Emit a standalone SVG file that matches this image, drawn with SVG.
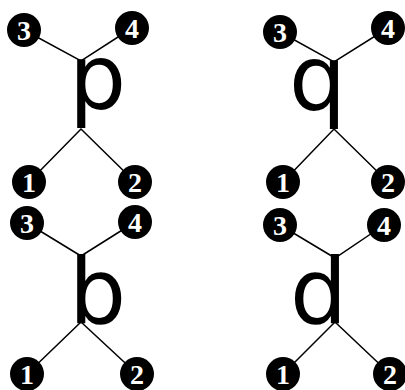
<svg xmlns="http://www.w3.org/2000/svg" width="405" height="390" viewBox="0 0 405 390">
<style>
.bg{fill:#fff}
.ln{stroke:#000;stroke-width:1.5;fill:none}
.c{fill:#000}
.n{fill:#fff;font-family:"Liberation Serif",serif;font-weight:bold;font-size:28px;text-anchor:middle}
.L{fill:#000;font-family:"DejaVu Sans",sans-serif;font-size:90px}
</style>
<rect class="bg" width="405" height="390"/>
<g id="connectors">
<path class="ln" d="M24,30L81,61L132,28M29,182L81,129L135,182"/>
<path class="ln" d="M280,32L334,62L388,28M283,182L334,129L388,182"/>
<path class="ln" d="M27,223L81,256L135,222M27,374L81,322L137,374"/>
<path class="ln" d="M280,225L335,258L384,225M283,374L335,322L390,374"/>
</g>
<g id="letter-p"><text class="L" x="69" y="109">p</text></g>
<g id="letter-q"><text class="L" x="289" y="110">q</text></g>
<g id="letter-b"><text class="L" x="69" y="323">b</text></g>
<g id="letter-d"><text class="L" x="290" y="323">d</text></g>
<g id="p3"><circle class="c" cx="24" cy="30" r="17"/><text class="n" x="24" y="39.5">3</text></g>
<g id="p4"><circle class="c" cx="132" cy="28" r="17"/><text class="n" x="132" y="37.5">4</text></g>
<g id="p1"><circle class="c" cx="29" cy="182" r="17"/><text class="n" x="29" y="191.5">1</text></g>
<g id="p2"><circle class="c" cx="135" cy="182" r="17"/><text class="n" x="135" y="191.5">2</text></g>
<g id="q3"><circle class="c" cx="280" cy="32" r="17"/><text class="n" x="280" y="41.5">3</text></g>
<g id="q4"><circle class="c" cx="388" cy="28" r="17"/><text class="n" x="388" y="37.5">4</text></g>
<g id="q1"><circle class="c" cx="283" cy="182" r="17"/><text class="n" x="283" y="191.5">1</text></g>
<g id="q2"><circle class="c" cx="388" cy="182" r="17"/><text class="n" x="388" y="191.5">2</text></g>
<g id="b3"><circle class="c" cx="27" cy="223" r="17"/><text class="n" x="27" y="232.5">3</text></g>
<g id="b4"><circle class="c" cx="135" cy="222" r="17"/><text class="n" x="135" y="231.5">4</text></g>
<g id="b1"><circle class="c" cx="27" cy="374" r="17"/><text class="n" x="27" y="383.5">1</text></g>
<g id="b2"><circle class="c" cx="137" cy="374" r="17"/><text class="n" x="137" y="383.5">2</text></g>
<g id="d3"><circle class="c" cx="280" cy="225" r="17"/><text class="n" x="280" y="234.5">3</text></g>
<g id="d4"><circle class="c" cx="384" cy="225" r="17"/><text class="n" x="384" y="234.5">4</text></g>
<g id="d1"><circle class="c" cx="283" cy="374" r="17"/><text class="n" x="283" y="383.5">1</text></g>
<g id="d2"><circle class="c" cx="390" cy="374" r="17"/><text class="n" x="390" y="383.5">2</text></g>
</svg>
